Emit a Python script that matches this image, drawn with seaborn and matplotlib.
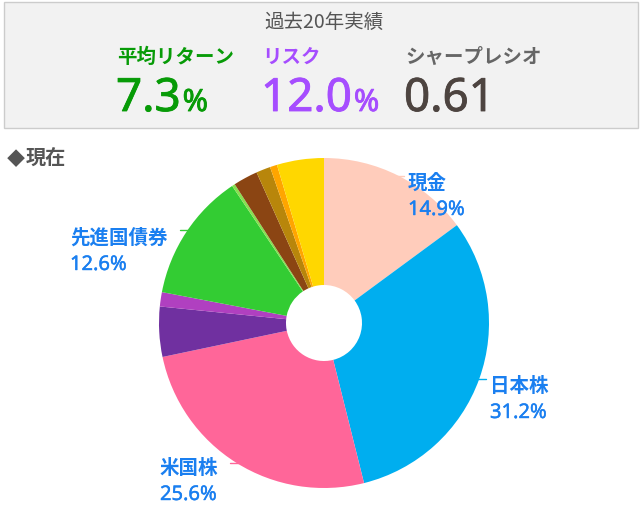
import matplotlib
matplotlib.use('Agg')
import matplotlib.pyplot as plt
import matplotlib.patheffects as pe
import seaborn as sns
from matplotlib.patches import Rectangle
from matplotlib.lines import Line2D

# asset allocation (clockwise from top)
assets = ['現金', '日本株', '米国株', '新興国株', 'その他株', '先進国債券',
          '新興国債券', 'REIT', '金', 'コモディティ', 'その他']
shares = [14.9, 31.2, 25.6, 4.9, 1.4, 12.6, 0.3, 2.4, 1.4, 0.7, 4.6]
colors = ['#FFCCBB', '#00AEEF', '#FF6699', '#7030A0', '#B040C0', '#33CC33',
          '#88E050', '#8B4513', '#B8860B', '#FFA500', '#FFD700']

# summary numbers
summary_title = '過去20年実績'
metric_names = ['平均リターン', 'リスク', 'シャープレシオ']
metric_values = ['7.3', '12.0', '0.61']
metric_units = ['%', '%', '']

sns.set_theme(style='white')
plt.rcParams['font.family'] = ['Noto Sans CJK JP', 'DejaVu Sans']
latin = ['Noto Sans', 'Noto Sans CJK JP']

W, H = 641, 527
fig = plt.figure(figsize=(W / 100, H / 100), dpi=100)


def px(x, y):
    return x / W, 1 - y / H


def thick(color, lw):
    # fake a medium weight by stroking the regular glyphs
    return [pe.withStroke(linewidth=lw, foreground=color)]


# summary box
fig.patches.append(Rectangle(px(4, 128), 634 / W, 126 / H, transform=fig.transFigure,
                             facecolor='#F2F2F2', edgecolor='#CCCCCC', lw=1))
fig.text(*px(324, 28), summary_title, ha='center', va='baseline', fontsize=14, color='#555555')

name_colors = ['#079B07', '#A64DFF', '#666666']
value_colors = ['#079B07', '#A64DFF', '#4D4440']
xs = [117, 262, 405]
renderer = fig.canvas.get_renderer()
for x, name, val, unit, nc, vc in zip(xs, metric_names, metric_values, metric_units,
                                      name_colors, value_colors):
    fig.text(*px(x, 63), name, ha='left', va='baseline', fontsize=14,
             fontweight='bold', color=nc)
    t = fig.text(*px(x - 1, 111), val, ha='left', va='baseline', fontsize=33,
                 color=vc, family=latin, path_effects=thick(vc, 0.6))
    if unit:
        bb = t.get_window_extent(renderer)
        fig.text(bb.x1 / W + 2 / W, 1 - 111 / H, unit, ha='left', va='baseline',
                 fontsize=22, color=vc, family=latin, path_effects=thick(vc, 0.6))

fig.text(*px(7, 165), '◆', ha='left', va='baseline', fontsize=13,
         color='#555555', family=['Noto Sans CJK JP', 'DejaVu Sans'])
fig.text(*px(26, 165), '現在', ha='left', va='baseline', fontsize=14.5,
         fontweight='bold', color='#555555')

# donut
cx, cy, r, hole = 324, 323, 165, 38
ax = fig.add_axes([(cx - r) / W, 1 - (cy + r) / H, 2 * r / W, 2 * r / H])
ax.pie(shares, colors=colors, startangle=90, counterclock=False, radius=1,
       wedgeprops=dict(width=1 - hole / r, linewidth=0))
ax.set_xlim(-1, 1)
ax.set_ylim(-1, 1)
ax.set_aspect('equal')
ax.axis('off')

# data labels for the larger slices
label_pos = {'現金': (408, 189), '日本株': (490, 392), '米国株': (160, 474), '先進国債券': (70, 244)}
line_pos = {'現金': (396, 404, 176), '日本株': (473, 486, 379),
            '米国株': (230, 239, 463), '先進国債券': (180, 193, 230)}
blue = '#1A7FF0'
for name, share, col in zip(assets, shares, colors):
    if name not in label_pos:
        continue
    x, y = label_pos[name]
    fig.text(*px(x, y), name, ha='left', va='baseline', fontsize=14, fontweight='bold', color=blue)
    fig.text(*px(x, y + 26), f'{share:.1f}%', ha='left', va='baseline', fontsize=14.5,
             color=blue, family=latin, path_effects=thick(blue, 0.3))
    x0, x1, ly = line_pos[name]
    fig.add_artist(Line2D([x0 / W, x1 / W], [1 - ly / H, 1 - ly / H], transform=fig.transFigure,
                          color=col, lw=1))

fig.savefig('out.png', dpi=100)
